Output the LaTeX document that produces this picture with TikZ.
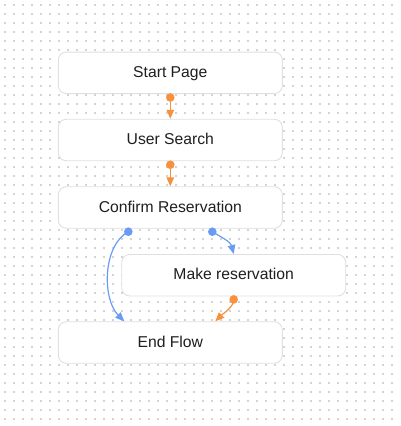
\documentclass[tikz,border=0pt]{standalone}
\usepackage{fontspec}
\setmainfont{Liberation Sans}
\usetikzlibrary{arrows.meta,calc}
\definecolor{orng}{HTML}{F7913D}
\definecolor{blu}{HTML}{6A9CF6}
\definecolor{bord}{HTML}{E0E0E0}
\definecolor{dotc}{HTML}{D4D4D4}
\definecolor{txt}{HTML}{1F1F1F}
\begin{document}
\begin{tikzpicture}[x=1pt,y=-1pt,
  flowbox/.style={draw=bord, line width=0.9pt, fill=white, rounded corners=8pt,
    minimum width=224pt, minimum height=41.5pt, inner sep=0pt,
    font=\fontsize{15.7pt}{18pt}\selectfont, text=txt,
    text height=11.2pt, text depth=2pt},
  handle/.style={circle, fill=#1, inner sep=0pt, minimum size=8.6pt},
  link/.style={draw=#1, line width=1.2pt, -{Triangle[length=9pt,width=7.5pt]}},
]
\useasboundingbox (0,0) rectangle (400,426);
\fill[white] (0,0) rectangle (400,426);
\foreach \i in {0,...,43}{
  \foreach \j in {0,...,46}{
    \fill[dotc] ({5+9*\i-0.9},{5+9*\j-0.9}) rectangle ++(1.8,1.8);
  }
}
\node[flowbox] (sp) at (170.3,72.8) {Start Page};
\node[flowbox] (us) at (170.3,140) {User Search};
\node[flowbox] (cr) at (170.3,207.5) {Confirm Reservation};
\node[flowbox] (mr) at (233.7,275.2) {Make reservation};
\node[flowbox] (ef) at (170.3,342.5) {End Flow};

\coordinate (sp-out) at ($(sp.south)+(0,3.5)$);
\coordinate (us-out) at ($(us.south)+(0,3.5)$);
\coordinate (cr-outa) at ($(cr.south)+(-42,3)$);
\coordinate (cr-outb) at ($(cr.south)+(42,3)$);
\coordinate (mr-out) at ($(mr.south)+(0,3)$);
\coordinate (ef-ina) at ($(ef.north)+(-46,0)$);
\coordinate (ef-inb) at ($(ef.north)+(45,0)$);

\draw[link=orng] (sp-out) -- (us.north);
\draw[link=orng] (us-out) -- (cr.north);
\draw[link=blu] (cr-outa) .. controls +(-26,14) and +(-22,-22) .. (ef-ina);
\draw[link=blu] (cr-outb) .. controls +(10,6) and +(-3,-12) .. (mr.north);
\draw[link=orng] (mr-out) .. controls +(0,8) and +(8,-8) .. (ef-inb);

\node[handle=orng] (h1) at (sp-out) {};
\node[handle=orng] (h2) at (us-out) {};
\node[handle=blu] (h3) at (cr-outa) {};
\node[handle=blu] (h4) at (cr-outb) {};
\node[handle=orng] (h5) at (mr-out) {};
\end{tikzpicture}
\end{document}
